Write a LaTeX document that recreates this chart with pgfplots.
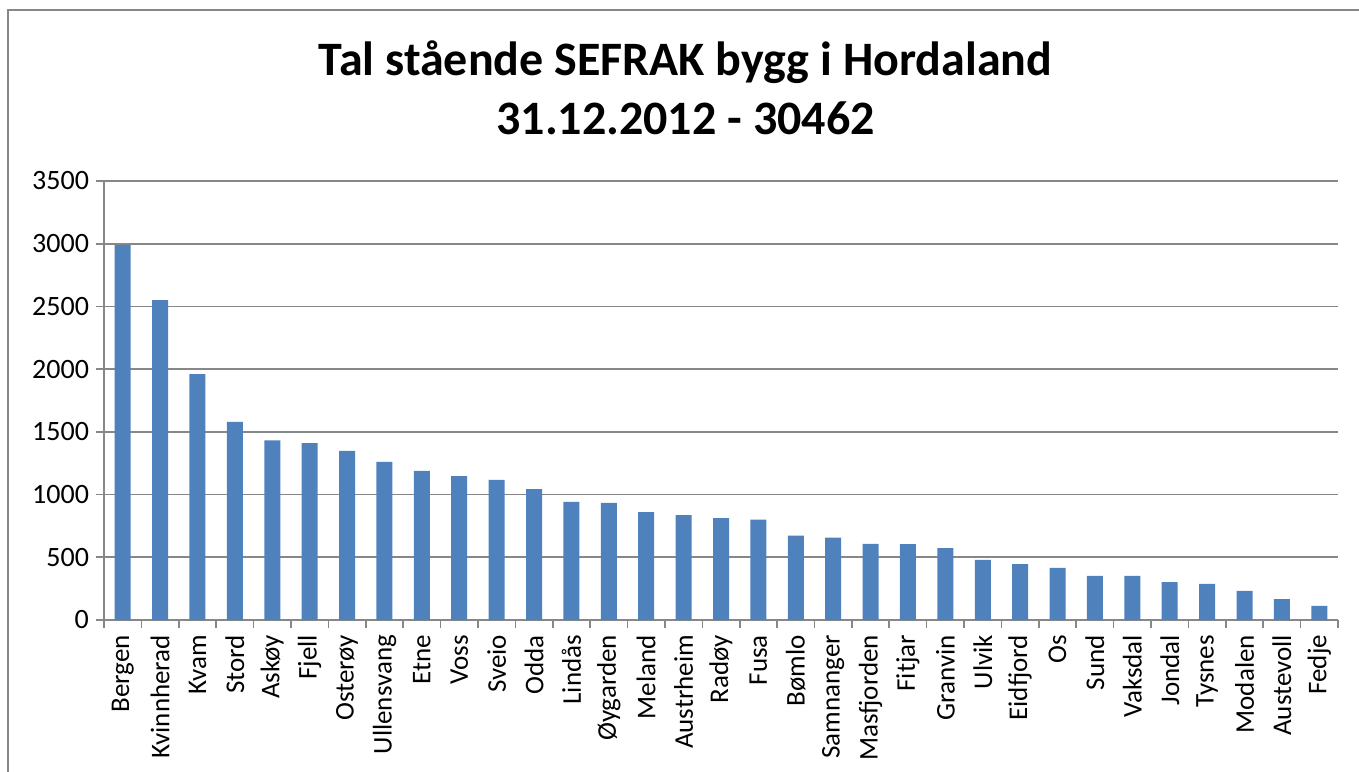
\documentclass[border=0pt]{standalone}
\usepackage{pgfplots}
\pgfplotsset{compat=1.18}
\usepackage{fontspec}
\setmainfont{Carlito}
\definecolor{barblue}{HTML}{4F81BD}
\definecolor{gridgray}{HTML}{878787}
\begin{document}
\begin{tikzpicture}
\path[use as bounding box] (0,0) rectangle (679.5pt,385.5pt);
\draw[gridgray,line width=1pt] (4pt,-2pt) -- (4pt,380.5pt) -- (682pt,380.5pt);
\node[font=\fontsize{24}{29.5}\selectfont\bfseries,align=center] at (342.75pt,341.5pt) {Tal stående SEFRAK bygg i Hordaland\\31.12.2012 - 30462};
\begin{axis}[
  at={(52pt,75.5pt)}, anchor=south west,
  scale only axis, width=617pt, height=219.5pt,
  ymin=0, ymax=3500, ytick={0,500,...,3500},
  xmin=-0.5, xmax=32.5,
  xtick={0,...,32},
  xticklabels={Bergen,Kvinnherad,Kvam,Stord,Askøy,Fjell,Osterøy,Ullensvang,Etne,Voss,Sveio,Odda,Lindås,Øygarden,Meland,Austrheim,Radøy,Fusa,Bømlo,Samnanger,Masfjorden,Fitjar,Granvin,Ulvik,Eidfjord,Os,Sund,Vaksdal,Jondal,Tysnes,Modalen,Austevoll,Fedje},
  minor xtick={-0.5,0.5,...,32.5},
  major x tick style={draw=none},
  tick align=outside,
  major tick length=4pt, minor tick length=4pt,
  tick style={gridgray,line width=0.8pt},
  axis x line*=bottom, axis y line*=left,
  axis line style={gridgray,line width=0.8pt},
  ymajorgrids, grid style={gridgray,line width=0.8pt},
  xticklabel style={rotate=90,anchor=east,font=\fontsize{13.5}{15}\selectfont},
  yticklabel style={font=\fontsize{14}{16}\selectfont},
  /pgf/number format/assume math mode=true,
  /pgf/number format/1000 sep={},
  ybar, bar width=8pt,
]
\addplot[fill=barblue,draw=none] coordinates {
(0,2990) (1,2550) (2,1960) (3,1580) (4,1432) (5,1410) (6,1348) (7,1260) (8,1188) (9,1148) (10,1118) (11,1044) (12,941) (13,933) (14,861) (15,837) (16,813) (17,800) (18,672) (19,656) (20,606) (21,604) (22,574) (23,480) (24,446) (25,415) (26,352) (27,352) (28,302) (29,288) (30,232) (31,167) (32,112)};
\end{axis}
\end{tikzpicture}
\end{document}
